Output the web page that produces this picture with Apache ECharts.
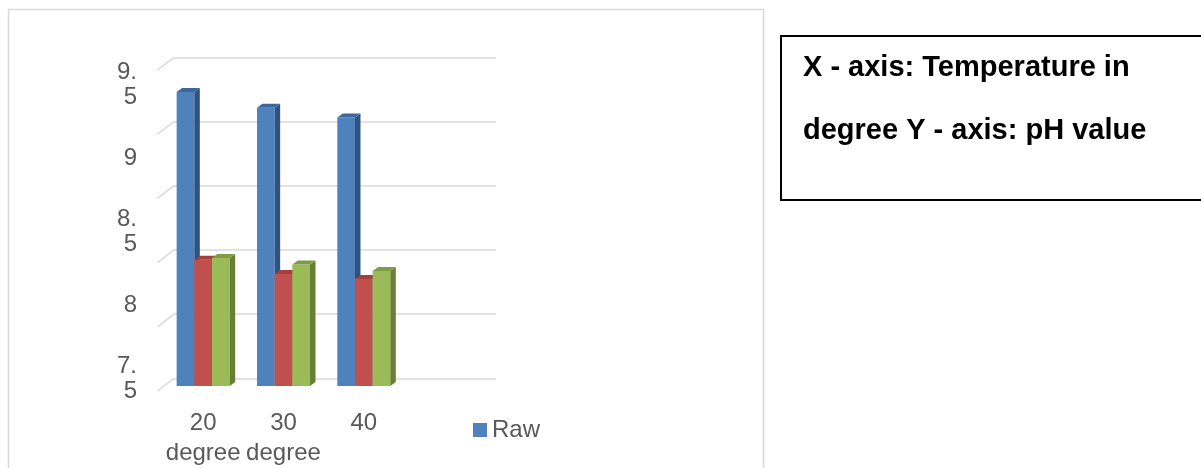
<!DOCTYPE html>
<html>
<head>
<meta charset="utf-8">
<title>pH value by temperature</title>
<script src="https://cdn.jsdelivr.net/npm/echarts@6/dist/echarts.min.js"></script>
<style>
  html, body { margin: 0; padding: 0; background: #ffffff; }
  #chart { width: 1201px; height: 468px; }
</style>
</head>
<body>
<div id="chart"></div>
<script>
// Temperature categories (the fourth slot is left empty on the axis)
const categories = ['20 degree', '30 degree', '40', ''];
// pH readings per temperature
const rawValues = [9.34, 9.24, 9.18];
const series2Values = [8.29, 8.20, 8.17];
const series3Values = [8.30, 8.26, 8.22];
// Labelled ticks and back-wall gridline ticks of the pH axis
const phLabelTicks = [7.5, 8, 8.5, 9, 9.5];
const wallTicks = [7.5, 7.9, 8.3, 8.7, 9.1, 9.5];
const noteLines = ['X - axis: Temperature in', 'degree Y - axis: pH value'];

const FONT = '"Liberation Sans", Arial, sans-serif';
const TEXT = '#595959';
const Y_MIN = 7.5, Y_MAX = 9.5;

const palette = [
  { front: '#4f81bd', side: '#2f5381', top: '#3c679c' },
  { front: '#c0504d', side: '#8c3633', top: '#a3403d' },
  { front: '#9bbb59', side: '#687f36', top: '#7f9c44' }
];

// 3D column: front face, right side face and top face
function barRenderer(k) {
  return function (params, api) {
    const i = api.value(0);
    const v = api.value(1);
    const base = api.coord([i, Y_MIN]);
    const top = api.coord([i, v]);
    const band = api.size([1, 0])[0];
    const bw = band * 0.22;
    const dx = 5.5, dy = 4;
    const x0 = base[0] - 1.5 * bw + k * bw;
    const x1 = x0 + bw;
    const c = palette[k];
    return {
      type: 'group',
      children: [
        { type: 'rect', shape: { x: x0, y: top[1], width: bw, height: base[1] - top[1] },
          style: { fill: c.front } },
        { type: 'polygon', shape: { points: [[x1, top[1]], [x1 + dx, top[1] - dy], [x1 + dx, base[1] - dy], [x1, base[1]]] },
          style: { fill: c.side } },
        { type: 'polygon', shape: { points: [[x0, top[1]], [x0 + dx, top[1] - dy], [x1 + dx, top[1] - dy], [x1, top[1]]] },
          style: { fill: c.top } }
      ]
    };
  };
}

function barSeries(name, values, k) {
  return {
    name: name,
    type: 'custom',
    xAxisIndex: 0,
    yAxisIndex: 0,
    z: 10 + k,
    itemStyle: { color: palette[k].front },
    renderItem: barRenderer(k),
    data: values.map((v, i) => [i, v])
  };
}

const chart = echarts.init(document.getElementById('chart'), null, { renderer: 'canvas' });

chart.setOption({
  animation: false,
  backgroundColor: '#ffffff',
  textStyle: { fontFamily: FONT },
  grid: [
    // bar plane
    { left: 163, top: 66.3, width: 321.3, height: 320.7 },
    // back wall
    { left: 174, top: 57.3, width: 322, height: 321 },
    // tick label column
    { left: 160, top: 85, width: 1, height: 293.5 }
  ],
  xAxis: [
    {
      type: 'category', gridIndex: 0, data: categories,
      axisLine: { show: false }, axisTick: { show: false },
      axisLabel: {
        interval: 0, margin: 22, color: TEXT, fontSize: 24, lineHeight: 30, fontFamily: FONT,
        formatter: s => s.replace(' ', '\n')
      }
    },
    { type: 'value', gridIndex: 1, min: 0, max: 1, show: false },
    { type: 'value', gridIndex: 2, min: 0, max: 1, show: false }
  ],
  yAxis: [
    { type: 'value', gridIndex: 0, min: Y_MIN, max: Y_MAX, show: false },
    {
      type: 'value', gridIndex: 1, min: Y_MIN, max: Y_MAX, interval: 0.4,
      axisLine: { show: false }, axisTick: { show: false }, axisLabel: { show: false },
      splitLine: { show: true, lineStyle: { color: '#d9d9d9', width: 1.5 } }
    },
    {
      type: 'value', gridIndex: 2, min: Y_MIN, max: Y_MAX, interval: 0.5,
      axisLine: { show: false }, axisTick: { show: false }, splitLine: { show: false },
      axisLabel: {
        margin: 23, color: TEXT, fontSize: 24, lineHeight: 25, fontFamily: FONT,
        customValues: phLabelTicks,
        formatter: v => String(v).replace('.', '.\n')
      }
    }
  ],
  legend: {
    data: ['Raw'],
    left: 468, top: 413,
    icon: 'rect', itemWidth: 14, itemHeight: 14, itemGap: 10,
    textStyle: { color: TEXT, fontSize: 24, fontFamily: FONT }
  },
  series: [
    // side-wall diagonals joining the front edge to each back-wall gridline
    {
      type: 'custom', xAxisIndex: 1, yAxisIndex: 1, silent: true, z: 1,
      renderItem: function (params, api) {
        const p = api.coord([0, api.value(0)]);
        return {
          type: 'line',
          shape: { x1: p[0], y1: p[1], x2: p[0] - 16.5, y2: p[1] + 12.7 },
          style: { stroke: '#d9d9d9', lineWidth: 1.5 }
        };
      },
      data: wallTicks.map(v => [v])
    },
    barSeries('Raw', rawValues, 0),
    barSeries('Series 2', series2Values, 1),
    barSeries('Series 3', series3Values, 2)
  ],
  graphic: [
    { type: 'rect', silent: true, z: 0,
      shape: { x: 8.5, y: 9.5, width: 755, height: 520 },
      style: { fill: 'none', stroke: '#d9d9d9', lineWidth: 1.5 } },
    { type: 'rect', silent: true,
      shape: { x: 781, y: 36, width: 450, height: 164 },
      style: { fill: '#ffffff', stroke: '#000000', lineWidth: 2 } },
    { type: 'text', silent: true, x: 803, y: 68,
      style: { text: noteLines[0], fill: '#000000', font: 'bold 29px ' + FONT, verticalAlign: 'middle' } },
    { type: 'text', silent: true, x: 803, y: 131,
      style: { text: noteLines[1], fill: '#000000', font: 'bold 29px ' + FONT, verticalAlign: 'middle' } }
  ]
});
</script>
</body>
</html>
